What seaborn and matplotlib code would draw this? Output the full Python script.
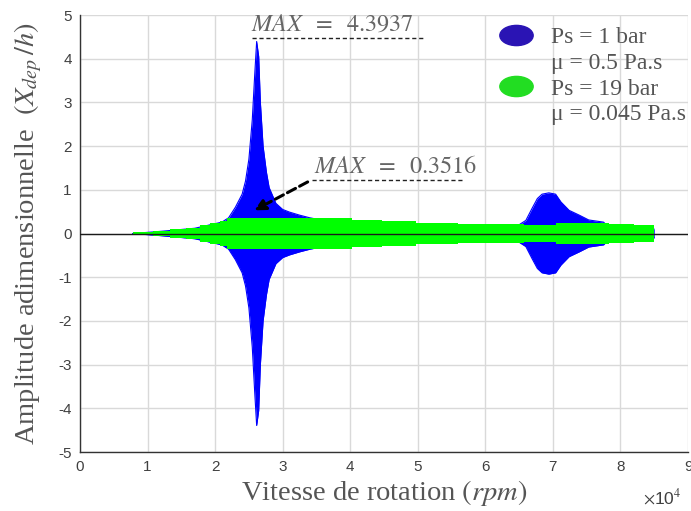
import numpy as np
import pandas as pd
import matplotlib
matplotlib.use("Agg")
import matplotlib.pyplot as plt
import seaborn as sns
from matplotlib.lines import Line2D
from matplotlib.path import Path
from matplotlib.ticker import FuncFormatter, MultipleLocator

# Envelope of the response, case Ps = 1 bar, mu = 0.5 Pa.s (rpm, X_dep/h)
blue_rpm = [7800, 12000, 17000, 21000, 22000, 23000, 24000, 24500, 25000, 25500,
            25850, 26150, 26450, 26700, 27100, 27600, 28000, 29000, 30000, 31000,
            32500, 34000, 36000, 40000, 45000, 50000, 55000, 60000, 65000, 66000,
            66900, 67700, 68400, 69400, 70400, 71200, 72400, 73900, 75300, 77500,
            78000, 80000, 85000]
blue_amp = [0.0, 0.05, 0.12, 0.26, 0.36, 0.60, 0.90, 1.20, 1.70, 2.60,
            3.60, 4.3937, 4.05, 3.00, 2.00, 1.40, 1.05, 0.69, 0.55, 0.49,
            0.42, 0.36, 0.30, 0.25, 0.20, 0.18, 0.16, 0.16, 0.20, 0.30,
            0.57, 0.80, 0.90, 0.93, 0.90, 0.72, 0.53, 0.42, 0.31, 0.26,
            0.18, 0.12, 0.10]

# Envelope of the response, case Ps = 19 bar, mu = 0.045 Pa.s (step levels)
green_rpm = [7800, 10800, 13300, 15700, 17700, 19200, 20700, 21700, 40200, 44700,
             49800, 56000, 65700, 70500, 78300, 82000, 85000]
green_amp = [0.038, 0.068, 0.099, 0.137, 0.19, 0.23, 0.28, 0.3516, 0.31, 0.28,
             0.25, 0.22, 0.20, 0.25, 0.22, 0.19, 0.19]

legend_labels = ["Ps = 1 bar", "\u03bc = 0.5 Pa.s", "Ps = 19 bar", "\u03bc = 0.045 Pa.s"]
max_labels = [r"$MAX\;\ =\;\ 4.3937$", r"$MAX\;\ =\;\ 0.3516$"]

sns.set_theme(style="whitegrid")
plt.rcParams["mathtext.fontset"] = "stix"
plt.rcParams["axes.unicode_minus"] = False
plt.rcParams["font.family"] = ["Liberation Sans", "DejaVu Sans"]

fig = plt.figure(figsize=(6.91, 5.11), dpi=100)
ax = fig.add_axes([80 / 691, 1 - 452 / 511, 608 / 691, 437 / 511])
ax.set_facecolor("white")

blue = pd.DataFrame({"rpm": blue_rpm, "amp": blue_amp})
green = pd.DataFrame({"rpm": green_rpm, "amp": green_amp})

ax.fill_between(blue["rpm"], -blue["amp"], blue["amp"], color="#0000ff", lw=0, zorder=2)
sns.lineplot(data=blue, x="rpm", y="amp", ax=ax, color="#0000ff", lw=0.8, zorder=2)
blue_neg = blue.assign(amp=-blue["amp"])
sns.lineplot(data=blue_neg, x="rpm", y="amp", ax=ax, color="#0000ff", lw=0.8, zorder=2)

ax.fill_between(green["rpm"], -green["amp"], green["amp"], step="post",
                color="#00ff00", lw=0, zorder=3)

ax.axhline(0, color="#1a1a1a", lw=1.0, zorder=4)

ax.set_xlim(0, 90000)
ax.set_ylim(-5, 5)
ax.xaxis.set_major_locator(MultipleLocator(10000))
ax.yaxis.set_major_locator(MultipleLocator(1))
ax.xaxis.set_major_formatter(FuncFormatter(lambda v, p: f"{v / 1e4:g}"))

ax.grid(True, color="#d9d9d9", lw=1.0)
for side in ["top", "right"]:
    ax.spines[side].set_visible(False)
for side in ["left", "bottom"]:
    ax.spines[side].set_color("#333333")
    ax.spines[side].set_linewidth(1.0)
ax.tick_params(direction="in", length=4, width=0.8, colors="#333333",
               labelsize=11, pad=6, labelcolor="#404040")
fig.text(643 / 691, 1 - 497 / 511, r"$\times$10$^4$", fontsize=12.5, color="#404040",
         ha="left", va="center")

label_kw = dict(fontsize=20.5, color="#555555", family="Liberation Serif")
ax.set_xlabel(r"Vitesse de rotation $(rpm)$", labelpad=3, **label_kw)
ax.set_ylabel(r"Amplitude adimensionnelle  $(X_{dep}\,/h)$", labelpad=10, **label_kw)

# Peak annotations
ax.plot([25500, 51000], [4.47, 4.47], ls=(0, (3, 2)), color="#222222", lw=1.0, zorder=5)
ax.text(25300, 4.52, max_labels[0], fontsize=17.5, color="#666666", va="bottom", ha="left")
ax.plot([34300, 56900], [1.22, 1.22], ls=(0, (3, 2)), color="#222222", lw=1.0, zorder=5)
ax.text(34600, 1.27, max_labels[1], fontsize=17.5, color="#666666", va="bottom", ha="left")
ax.annotate("", xy=(25800, 0.53), xytext=(33700, 1.18),
            arrowprops=dict(arrowstyle="-|>", color="black", lw=2.2, ls=(0, (3, 1.5)),
                            mutation_scale=16, shrinkA=0, shrinkB=0), zorder=6)

# Legend with elliptical markers
circ = Path.unit_circle()
ellipse = Path(circ.vertices * np.array([1.65, 1.0]), circ.codes)
handles = [
    Line2D([], [], ls="none", marker=ellipse, markersize=24, color="#2a14b4"),
    Line2D([], [], ls="none", marker=None),
    Line2D([], [], ls="none", marker=ellipse, markersize=24, color="#22dd22"),
    Line2D([], [], ls="none", marker=None),
]
leg = ax.legend(handles, legend_labels, loc="upper left", bbox_to_anchor=(0.655, 1.022),
                frameon=False, handlelength=1.4, handletextpad=0.8, labelspacing=0.18,
                prop={"family": "Liberation Serif", "size": 17})
for t in leg.get_texts():
    t.set_color("#555555")

fig.savefig("out.png", dpi=100)
